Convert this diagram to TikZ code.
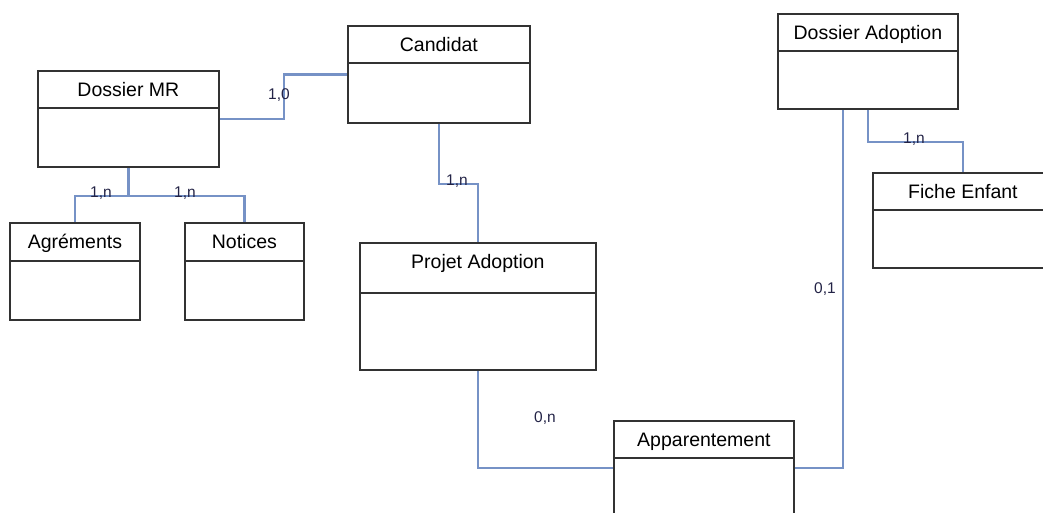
\documentclass[tikz,border=0pt]{standalone}
\usepackage{fontspec}
\setmainfont{Liberation Sans}
\usetikzlibrary{positioning}

\definecolor{lienbleu}{RGB}{118,146,198}
\definecolor{cadre}{RGB}{50,50,50}
\definecolor{cardin}{RGB}{35,35,70}

\newcommand{\entite}[7]{%
  \node[boite, minimum width=#4, minimum height=#5, anchor=north west] (#1) at (#2,#3) {};
  \draw[filet] ([yshift=-#6]#1.north west) -- ([yshift=-#6]#1.north east);
  \node[titre] (#1-titre) at ([yshift=-21pt]#1.north) {#7};
}

\begin{document}
\begin{tikzpicture}[
			x = 1pt, y = -1pt,
			boite/.style = {draw=cadre, line width=1.8pt, inner sep=0pt, fill=white},
			filet/.style = {draw=cadre, line width=1.5pt},
			titre/.style = {font=\fontsize{19.5}{22}\selectfont, inner sep=0pt, text height=14pt, text depth=4pt},
			lien/.style = {draw=lienbleu, line width=2.2pt},
			card/.style = {font=\fontsize{15.5}{17}\selectfont, text=cardin, inner sep=0pt}
			]

			\path[use as bounding box, clip] (0,0) rectangle (1043,512);

			\entite{dmr}{37}{70}{181}{96}{38}{Dossier MR}
			\entite{cand}{347}{25}{182}{97}{38}{Candidat}
			\entite{agr}{9}{222}{130}{97}{39}{Agréments}
			\entite{not}{184}{222}{119}{97}{39}{Notices}
			\entite{proj}{359}{242}{236}{127}{51}{Projet Adoption}
			\entite{da}{777}{13}{180}{95}{38}{Dossier Adoption}
			\entite{fe}{872}{172}{180}{95}{38}{Fiche Enfant}
			\entite{app}{613}{420}{180}{94}{38}{Apparentement}

			\draw[lien] (dmr.east) -- ++(64,0) |- (cand.west);
			\draw[lien] (dmr.south) -- ++(0,28) coordinate (dmrbas) -| (agr.north);
			\draw[lien] (dmrbas) -| (not.north);
			\draw[lien] (cand.south) -- ++(0,60) -| (proj.north);
			\draw[lien] (proj.south) |- (app.west);
			\draw[lien] (app.east) -| ([xshift=-25pt]da.south);
			\draw[lien] (da.south) -- ++(0,32) -| (fe.north);

			\node[card] (c-dmr-cand) at (279,95) {1,0};
			\node[card] (c-dmr-agr) at (101,193) {1,n};
			\node[card] (c-dmr-not) at (185,193) {1,n};
			\node[card] (c-cand-proj) at (457,181) {1,n};
			\node[card] (c-da-fe) at (914,139) {1,n};
			\node[card] (c-da-app) at (825,289) {0,1};
			\node[card] (c-proj-app) at (545,418) {0,n};

		\end{tikzpicture}
\end{document}
